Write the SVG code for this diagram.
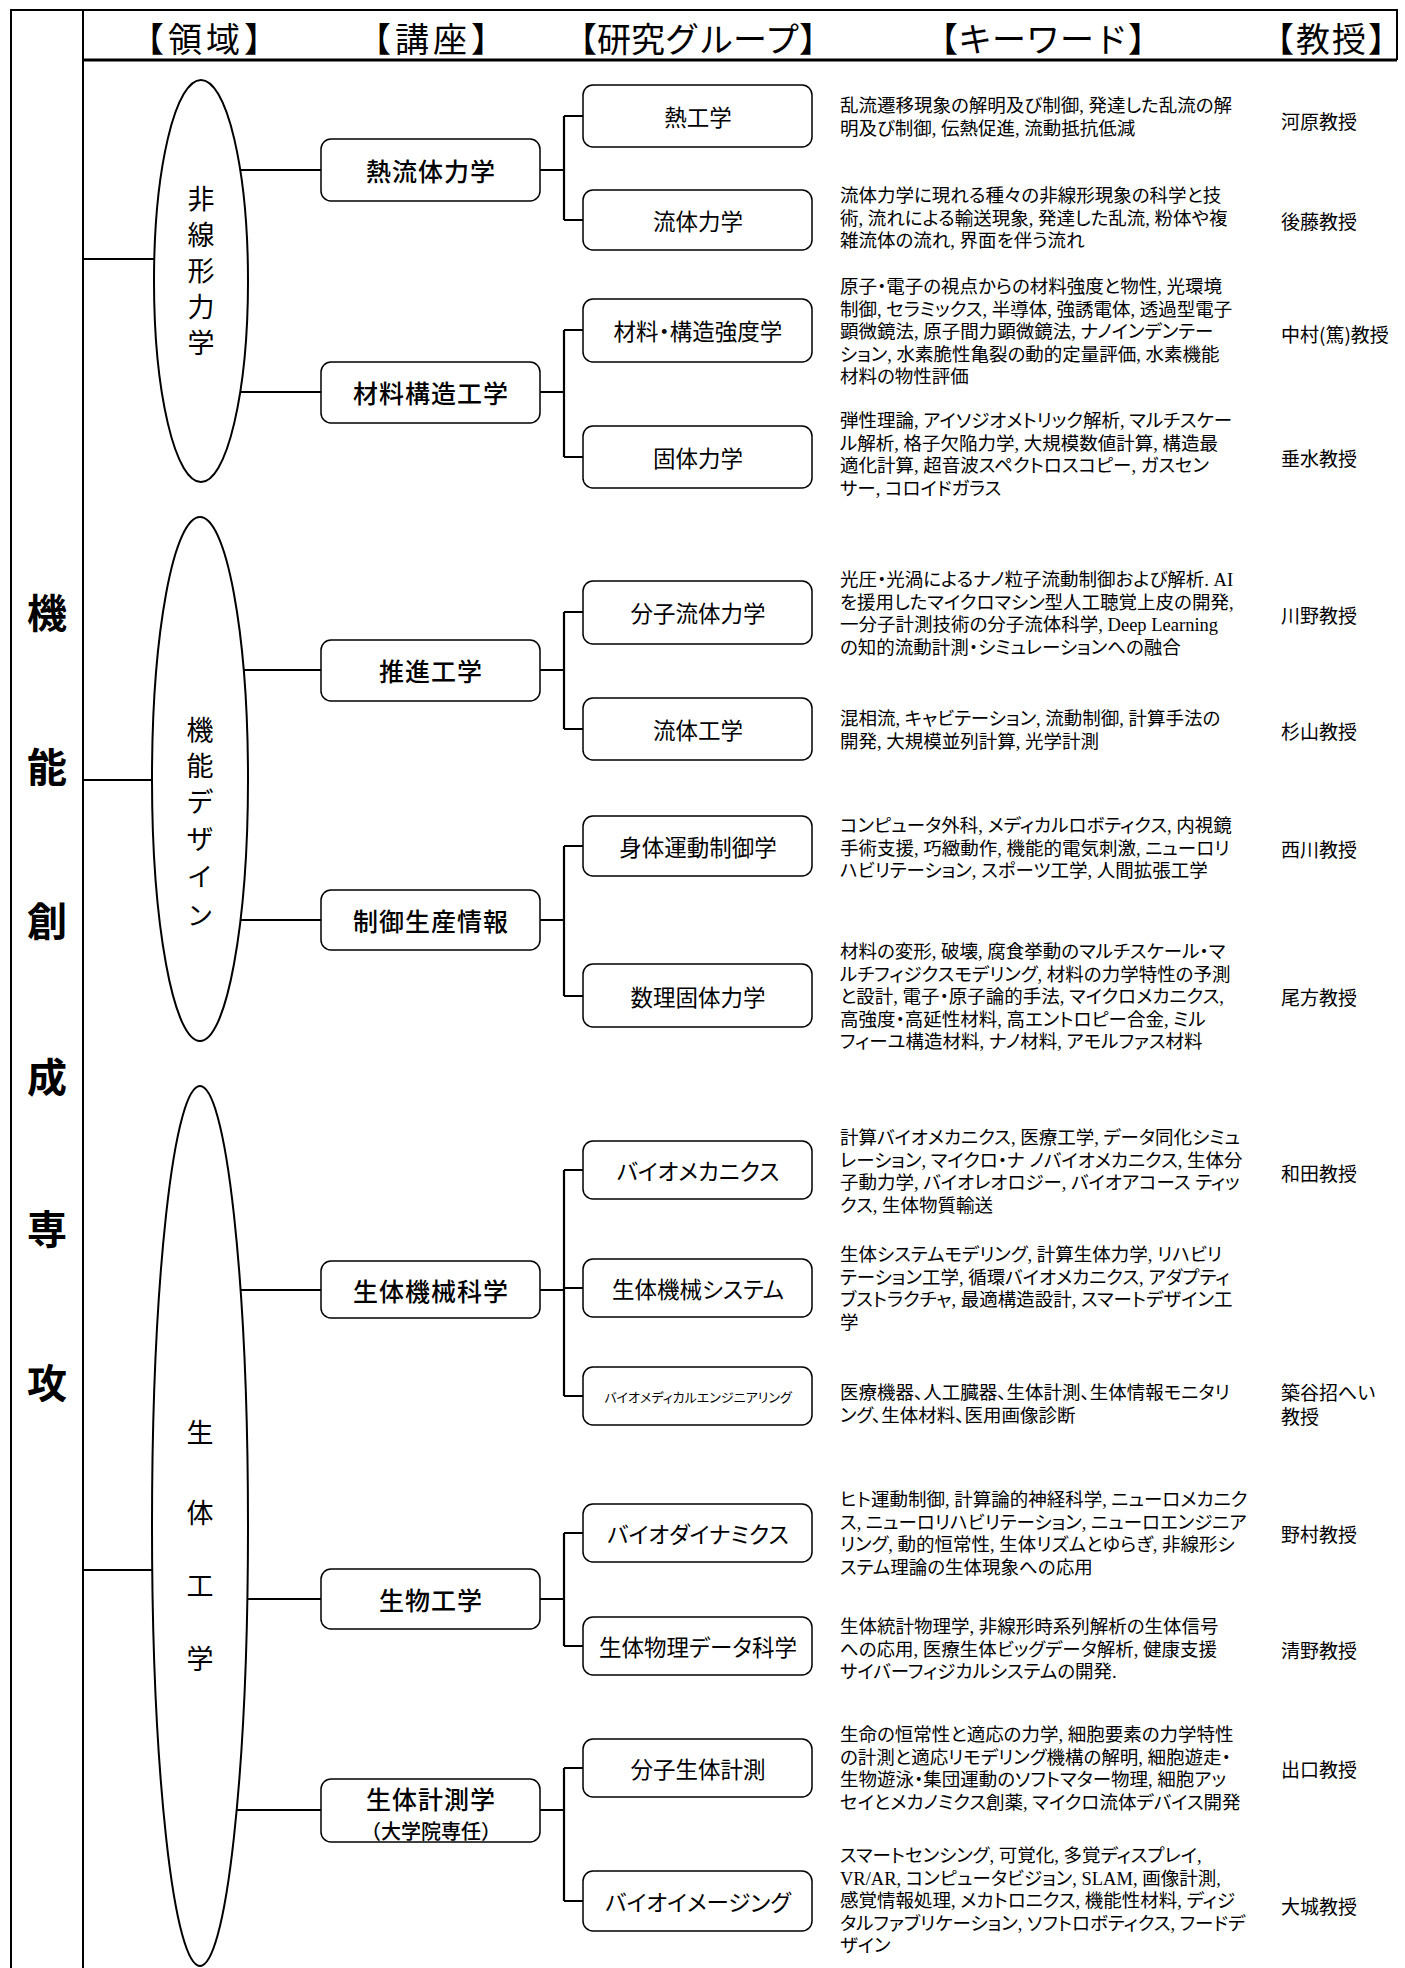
<svg xmlns="http://www.w3.org/2000/svg" width="1405" height="1968" viewBox="0 0 1405 1968">
<style>
.frame{fill:none;stroke:#000;stroke-width:2}
.hline{fill:none;stroke:#000;stroke-width:3}
.ell{fill:#fff;stroke:#000;stroke-width:2}
.box{fill:#fff;stroke:#000;stroke-width:1.5}
.conn{fill:none;stroke:#000;stroke-width:1.8}
.brk{fill:none;stroke:#000;stroke-width:2.2}
text{font-family:"Noto Sans CJK JP","Noto Sans",sans-serif;fill:#000;dominant-baseline:central}
.hdr{font-size:34px;text-anchor:middle}
.hs{letter-spacing:4px}
.big{font-size:40px;font-weight:700;text-anchor:middle}
.vt{font-size:27px;text-anchor:middle}
.course{font-size:25px;font-weight:500;text-anchor:middle;letter-spacing:1px}
.grp{font-size:22.5px;text-anchor:middle;font-feature-settings:"palt"}
.kw{font-family:"Liberation Serif","Noto Sans CJK JP",serif;font-size:18.5px;font-feature-settings:"palt"}
.prof{font-size:19px;font-feature-settings:"palt"}
</style>

<g id="frame">
<path class="frame" d="M11 1968 V10 H1397 V60"/>
<path class="frame" d="M83 10 V1968"/>
<path class="hline" d="M83 60 H1397"/>
</g>

<g id="headers">
<text class="hdr hs" x="206" y="37">【領域】</text>
<text class="hdr hs" x="433" y="37">【講座】</text>
<text class="hdr" x="698" y="37">【研究グループ】</text>
<text class="hdr" x="1043" y="37">【キーワード】</text>
<text class="hdr" x="1332" y="37" style="letter-spacing:2px">【教授】</text>
</g>

<g id="major">
<text class="big" x="47" y="611">機</text>
<text class="big" x="47" y="765">能</text>
<text class="big" x="47" y="919">創</text>
<text class="big" x="47" y="1075">成</text>
<text class="big" x="47" y="1227">専</text>
<text class="big" x="47" y="1381">攻</text>
</g>

<g id="connectors">
<path class="conn" d="M83 259 H200 M83 780 H200 M83 1570 H200"/>
<path class="conn" d="M201 170 H321 M201 392 H321 M200 670 H321 M200 920 H321 M200 1290 H321 M200 1599 H321 M200 1810 H321"/>
<path class="brk" d="M540 170 H564 M564 116 V220 M564 116 H583 M564 220 H583"/>
<path class="brk" d="M540 392 H564 M564 330 V457 M564 330 H583 M564 457 H583"/>
<path class="brk" d="M540 670 H564 M564 612 V729 M564 612 H583 M564 729 H583"/>
<path class="brk" d="M540 920 H564 M564 846 V996 M564 846 H583 M564 996 H583"/>
<path class="brk" d="M540 1290 H564 M564 1170 V1396 M564 1170 H583 M564 1288 H583 M564 1396 H583"/>
<path class="brk" d="M540 1599 H564 M564 1533 V1646 M564 1533 H583 M564 1646 H583"/>
<path class="brk" d="M540 1810 H564 M564 1768 V1901 M564 1768 H583 M564 1901 H583"/>
</g>

<g id="area-nonlinear">
<ellipse class="ell" cx="201" cy="281" rx="47" ry="201"/>
<text class="vt" x="201" y="197">非</text>
<text class="vt" x="201" y="233">線</text>
<text class="vt" x="201" y="269">形</text>
<text class="vt" x="201" y="305">力</text>
<text class="vt" x="201" y="341">学</text>
</g>
<g id="area-design">
<ellipse class="ell" cx="200" cy="779" rx="48" ry="262"/>
<text class="vt" x="200" y="728">機</text>
<text class="vt" x="200" y="764">能</text>
<text class="vt" x="200" y="800">デ</text>
<text class="vt" x="200" y="837">ザ</text>
<text class="vt" x="200" y="874" style="font-size:26px">イ</text>
<text class="vt" x="200" y="913" style="font-size:26px">ン</text>
</g>
<g id="area-bio">
<ellipse class="ell" cx="200" cy="1526" rx="48" ry="440"/>
<text class="vt" x="200" y="1431">生</text>
<text class="vt" x="200" y="1511">体</text>
<text class="vt" x="200" y="1584">工</text>
<text class="vt" x="200" y="1657">学</text>
</g>

<g id="course-thermofluid"><rect class="box" x="321" y="139" width="219" height="62" rx="10"/><text class="course" x="431" y="170">熱流体力学</text></g>
<g id="course-material"><rect class="box" x="321" y="362" width="219" height="61" rx="10"/><text class="course" x="431" y="392">材料構造工学</text></g>
<g id="course-propulsion"><rect class="box" x="321" y="640" width="219" height="61" rx="10"/><text class="course" x="431" y="670">推進工学</text></g>
<g id="course-control"><rect class="box" x="321" y="890" width="219" height="60" rx="10"/><text class="course" x="431" y="920">制御生産情報</text></g>
<g id="course-biomech"><rect class="box" x="321" y="1261" width="219" height="57" rx="10"/><text class="course" x="431" y="1290">生体機械科学</text></g>
<g id="course-bioeng"><rect class="box" x="321" y="1569" width="219" height="60" rx="10"/><text class="course" x="431" y="1599">生物工学</text></g>
<g id="course-biomeasure"><rect class="box" x="321" y="1779" width="219" height="63" rx="10"/><text class="course" x="431" y="1798">生体計測学</text><text class="course" x="431" y="1830" style="font-size:20px;letter-spacing:0">（大学院専任）</text></g>

<g id="grp-1"><rect class="box" x="583" y="85" width="229" height="62" rx="10"/><text class="grp" x="698" y="116">熱工学</text>
<text class="kw" x="840" y="106"><tspan x="840">乱流遷移現象の解明及び制御, 発達した乱流の解</tspan><tspan x="840" dy="22.5">明及び制御, 伝熱促進, 流動抵抗低減</tspan></text>
<text class="prof" x="1281" y="120">河原教授</text></g>

<g id="grp-2"><rect class="box" x="583" y="190" width="229" height="60" rx="10"/><text class="grp" x="698" y="220">流体力学</text>
<text class="kw" x="840" y="196"><tspan x="840">流体力学に現れる種々の非線形現象の科学と技</tspan><tspan x="840" dy="22.5">術, 流れによる輸送現象, 発達した乱流, 粉体や複</tspan><tspan x="840" dy="22.5">雑流体の流れ, 界面を伴う流れ</tspan></text>
<text class="prof" x="1281" y="220">後藤教授</text></g>

<g id="grp-3"><rect class="box" x="583" y="299" width="229" height="63" rx="10"/><text class="grp" x="698" y="330">材料・構造強度学</text>
<text class="kw" x="840" y="287"><tspan x="840">原子・電子の視点からの材料強度と物性, 光環境</tspan><tspan x="840" dy="22.5">制御, セラミックス, 半導体, 強誘電体, 透過型電子</tspan><tspan x="840" dy="22.5">顕微鏡法, 原子間力顕微鏡法, ナノインデンテー</tspan><tspan x="840" dy="22.5">ション, 水素脆性亀裂の動的定量評価, 水素機能</tspan><tspan x="840" dy="22.5">材料の物性評価</tspan></text>
<text class="prof" x="1281" y="333">中村(篤)教授</text></g>

<g id="grp-4"><rect class="box" x="583" y="426" width="229" height="62" rx="10"/><text class="grp" x="698" y="457">固体力学</text>
<text class="kw" x="840" y="421"><tspan x="840">弾性理論, アイソジオメトリック解析, マルチスケー</tspan><tspan x="840" dy="22.5">ル解析, 格子欠陥力学, 大規模数値計算, 構造最</tspan><tspan x="840" dy="22.5">適化計算, 超音波スペクトロスコピー, ガスセン</tspan><tspan x="840" dy="22.5">サー, コロイドガラス</tspan></text>
<text class="prof" x="1281" y="457">垂水教授</text></g>

<g id="grp-5"><rect class="box" x="583" y="581" width="229" height="63" rx="10"/><text class="grp" x="698" y="612">分子流体力学</text>
<text class="kw" x="840" y="580"><tspan x="840">光圧・光渦によるナノ粒子流動制御および解析. AI</tspan><tspan x="840" dy="22.5">を援用したマイクロマシン型人工聴覚上皮の開発,</tspan><tspan x="840" dy="22.5">一分子計測技術の分子流体科学, Deep Learning</tspan><tspan x="840" dy="22.5">の知的流動計測・シミュレーションへの融合</tspan></text>
<text class="prof" x="1281" y="614">川野教授</text></g>

<g id="grp-6"><rect class="box" x="583" y="698" width="229" height="62" rx="10"/><text class="grp" x="698" y="729">流体工学</text>
<text class="kw" x="840" y="719"><tspan x="840">混相流, キャビテーション, 流動制御, 計算手法の</tspan><tspan x="840" dy="22.5">開発, 大規模並列計算, 光学計測</tspan></text>
<text class="prof" x="1281" y="730">杉山教授</text></g>

<g id="grp-7"><rect class="box" x="583" y="816" width="229" height="60" rx="10"/><text class="grp" x="698" y="846">身体運動制御学</text>
<text class="kw" x="840" y="826"><tspan x="840">コンピュータ外科, メディカルロボティクス, 内視鏡</tspan><tspan x="840" dy="22.5">手術支援, 巧緻動作, 機能的電気刺激, ニューロリ</tspan><tspan x="840" dy="22.5">ハビリテーション, スポーツ工学, 人間拡張工学</tspan></text>
<text class="prof" x="1281" y="848">西川教授</text></g>

<g id="grp-8"><rect class="box" x="583" y="964" width="229" height="63" rx="10"/><text class="grp" x="698" y="996">数理固体力学</text>
<text class="kw" x="840" y="952"><tspan x="840">材料の変形, 破壊, 腐食挙動のマルチスケール・マ</tspan><tspan x="840" dy="22.5">ルチフィジクスモデリング, 材料の力学特性の予測</tspan><tspan x="840" dy="22.5">と設計, 電子・原子論的手法, マイクロメカニクス,</tspan><tspan x="840" dy="22.5">高強度・高延性材料, 高エントロピー合金, ミル</tspan><tspan x="840" dy="22.5">フィーユ構造材料, ナノ材料, アモルファス材料</tspan></text>
<text class="prof" x="1281" y="996">尾方教授</text></g>

<g id="grp-9"><rect class="box" x="583" y="1141" width="229" height="58" rx="10"/><text class="grp" x="698" y="1170">バイオメカニクス</text>
<text class="kw" x="840" y="1138"><tspan x="840">計算バイオメカニクス, 医療工学, データ同化シミュ</tspan><tspan x="840" dy="22.5">レーション, マイクロ・ナ ノバイオメカニクス, 生体分</tspan><tspan x="840" dy="22.5">子動力学, バイオレオロジー, バイオアコース ティッ</tspan><tspan x="840" dy="22.5">クス, 生体物質輸送</tspan></text>
<text class="prof" x="1281" y="1172">和田教授</text></g>

<g id="grp-10"><rect class="box" x="583" y="1259" width="229" height="58" rx="10"/><text class="grp" x="698" y="1288">生体機械システム</text>
<text class="kw" x="840" y="1255"><tspan x="840">生体システムモデリング, 計算生体力学, リハビリ</tspan><tspan x="840" dy="22.5">テーション工学, 循環バイオメカニクス, アダプティ</tspan><tspan x="840" dy="22.5">ブストラクチャ, 最適構造設計, スマートデザイン工</tspan><tspan x="840" dy="22.5">学</tspan></text></g>

<g id="grp-11"><rect class="box" x="583" y="1367" width="229" height="58" rx="10"/><text class="grp" x="698" y="1396" style="font-size:13px">バイオメディカルエンジニアリング</text>
<text class="kw" x="840" y="1393"><tspan x="840">医療機器、人工臓器、生体計測、生体情報モニタリ</tspan><tspan x="840" dy="22.5">ング、生体材料、医用画像診断</tspan></text>
<text class="prof" x="1281" y="1391"><tspan x="1281">築谷招へい</tspan><tspan x="1281" dy="24">教授</tspan></text></g>

<g id="grp-12"><rect class="box" x="583" y="1504" width="229" height="58" rx="10"/><text class="grp" x="698" y="1533">バイオダイナミクス</text>
<text class="kw" x="840" y="1500"><tspan x="840">ヒト運動制御, 計算論的神経科学, ニューロメカニク</tspan><tspan x="840" dy="22.5">ス, ニューロリハビリテーション, ニューロエンジニア</tspan><tspan x="840" dy="22.5">リング, 動的恒常性, 生体リズムとゆらぎ, 非線形シ</tspan><tspan x="840" dy="22.5">ステム理論の生体現象への応用</tspan></text>
<text class="prof" x="1281" y="1533">野村教授</text></g>

<g id="grp-13"><rect class="box" x="583" y="1617" width="229" height="58" rx="10"/><text class="grp" x="698" y="1646">生体物理データ科学</text>
<text class="kw" x="840" y="1627"><tspan x="840">生体統計物理学, 非線形時系列解析の生体信号</tspan><tspan x="840" dy="22.5">への応用, 医療生体ビッグデータ解析, 健康支援</tspan><tspan x="840" dy="22.5">サイバーフィジカルシステムの開発.</tspan></text>
<text class="prof" x="1281" y="1649">清野教授</text></g>

<g id="grp-14"><rect class="box" x="583" y="1739" width="229" height="58" rx="10"/><text class="grp" x="698" y="1768">分子生体計測</text>
<text class="kw" x="840" y="1735"><tspan x="840">生命の恒常性と適応の力学, 細胞要素の力学特性</tspan><tspan x="840" dy="22.5">の計測と適応リモデリング機構の解明, 細胞遊走・</tspan><tspan x="840" dy="22.5">生物遊泳・集団運動のソフトマター物理, 細胞アッ</tspan><tspan x="840" dy="22.5">セイとメカノミクス創薬, マイクロ流体デバイス開発</tspan></text>
<text class="prof" x="1281" y="1768">出口教授</text></g>

<g id="grp-15"><rect class="box" x="583" y="1871" width="229" height="60" rx="10"/><text class="grp" x="698" y="1901">バイオイメージング</text>
<text class="kw" x="840" y="1856"><tspan x="840">スマートセンシング, 可覚化, 多覚ディスプレイ,</tspan><tspan x="840" dy="22.5">VR/AR, コンピュータビジョン, SLAM, 画像計測,</tspan><tspan x="840" dy="22.5">感覚情報処理, メカトロニクス, 機能性材料, ディジ</tspan><tspan x="840" dy="22.5">タルファブリケーション, ソフトロボティクス, フードデ</tspan><tspan x="840" dy="22.5">ザイン</tspan></text>
<text class="prof" x="1281" y="1905">大城教授</text></g>
</svg>
